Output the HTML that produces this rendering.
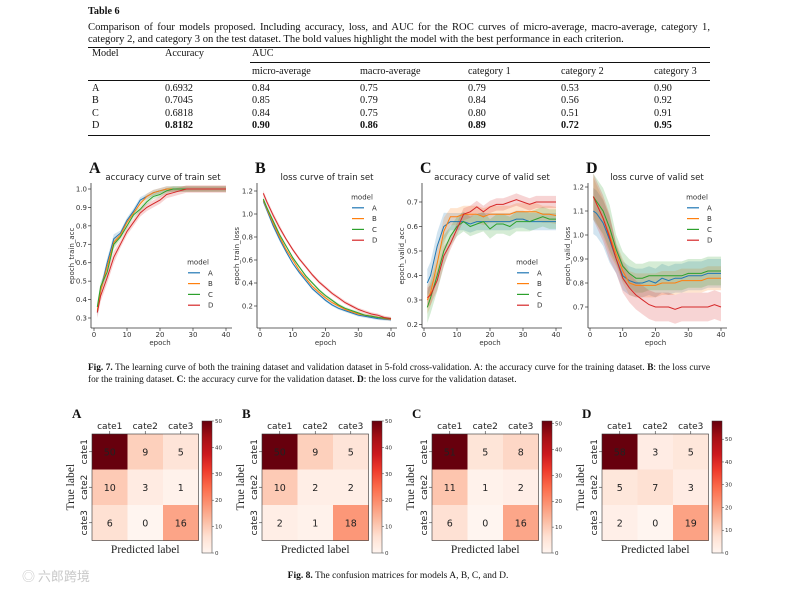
<!DOCTYPE html>
<html><head><meta charset="utf-8">
<style>
body{margin:0;background:#fff;}
#root{position:relative;width:792px;height:590px;overflow:hidden;background:#fff;font-family:"Liberation Serif",serif;color:#111;}
.abs{position:absolute;white-space:nowrap;}
.t{font-size:10.2px;}
.cap{position:absolute;left:88px;width:622px;font-size:10.6px;line-height:12px;text-align:justify;}
.rule{position:absolute;background:#111;height:1px;}
svg text{font-family:"DejaVu Sans","Liberation Sans",sans-serif;}
svg text.serif{font-family:"Liberation Serif",serif;}
</style></head>
<body>
<div id="root">
  <div class="abs t" style="left:88px;top:6px;font-weight:bold;">Table 6</div>
  <div class="cap" style="top:22px;">Comparison of four models proposed. Including accuracy, loss, and AUC for the ROC curves of micro-average, macro-average, category 1, category 2, and category 3 on the test dataset. The bold values highlight the model with the best performance in each criterion.</div>
  <div class="rule" style="left:88px;width:622px;top:47px;"></div>
  <div class="rule" style="left:250px;width:460px;top:62px;height:0.8px;"></div>
  <div class="rule" style="left:88px;width:622px;top:80px;height:0.8px;"></div>
  <div class="rule" style="left:88px;width:622px;top:135px;"></div>
  <div id="tbl"></div>

  <div class="cap" style="top:362px;font-size:9.3px;"><b>Fig. 7.</b> The learning curve of both the training dataset and validation dataset in 5-fold cross-validation. A: the accuracy curve for the training dataset. <b>B</b>: the loss curve for the training dataset. <b>C</b>: the accuracy curve for the validation dataset. <b>D</b>: the loss curve for the validation dataset.</div>
  <div class="abs t" style="left:0;width:796px;text-align:center;top:571px;font-size:9.5px;"><b>Fig. 8.</b> The confusion matrices for models A, B, C, and D.</div>
  <div class="abs" style="left:22px;top:566px;font-size:13px;color:#c8c8c8;font-family:'Noto Sans CJK SC',sans-serif;">◎ 六郎跨境</div>

  <svg id="svg" width="792" height="590" style="position:absolute;left:0;top:0;"></svg>
</div>
<script>
// ---------- table ----------
const tableCols=["Model","Accuracy","micro-average","macro-average","category 1","category 2","category 3"];
const tableRows=[
 ["A","0.6932","0.84","0.75","0.79","0.53","0.90"],
 ["B","0.7045","0.85","0.79","0.84","0.56","0.92"],
 ["C","0.6818","0.84","0.75","0.80","0.51","0.91"],
 ["D","0.8182","0.90","0.86","0.89","0.72","0.95"]];
// ---------- learning curves ----------
const epochs=[1,2,4,6,8,10,12,14,16,18,20,22,24,26,28,30,32,34,36,38,40];
const models=["A","B","C","D"];
const trainAccA=[0.33,0.45,0.60,0.73,0.76,0.83,0.88,0.94,0.96,0.98,0.99,1,1,1,1,1,1,1,1,1,1];
const trainAccB=[0.34,0.45,0.58,0.71,0.75,0.82,0.87,0.92,0.96,0.98,0.99,1,1,1,1,1,1,1,1,1,1];
const trainAccC=[0.36,0.47,0.55,0.70,0.74,0.80,0.86,0.89,0.93,0.96,0.97,0.99,1,1,1,1,1,1,1,1,1];
const trainAccD=[0.33,0.42,0.52,0.63,0.70,0.77,0.82,0.87,0.90,0.92,0.94,0.97,0.98,0.99,1,1,1,1,1,1,1];
const trainLossA=[1.11,1.04,0.90,0.78,0.67,0.57,0.49,0.42,0.35,0.30,0.25,0.21,0.18,0.16,0.14,0.12,0.11,0.10,0.09,0.085,0.08];
const trainLossB=[1.12,1.05,0.92,0.80,0.69,0.60,0.51,0.44,0.37,0.32,0.27,0.23,0.20,0.17,0.15,0.13,0.12,0.11,0.10,0.09,0.085];
const trainLossC=[1.13,1.06,0.94,0.82,0.72,0.62,0.54,0.46,0.40,0.34,0.29,0.25,0.21,0.18,0.16,0.14,0.12,0.11,0.10,0.095,0.09];
const trainLossD=[1.18,1.11,0.99,0.88,0.78,0.69,0.61,0.54,0.47,0.41,0.36,0.31,0.27,0.23,0.20,0.17,0.15,0.13,0.12,0.10,0.09];
const validAccA=[0.37,0.40,0.52,0.60,0.62,0.62,0.62,0.61,0.62,0.62,0.62,0.62,0.62,0.62,0.63,0.63,0.62,0.62,0.62,0.62,0.62];
const validAccB=[0.30,0.33,0.45,0.58,0.64,0.64,0.65,0.65,0.65,0.64,0.65,0.65,0.65,0.65,0.66,0.66,0.66,0.66,0.65,0.65,0.645];
const validAccC=[0.27,0.31,0.40,0.50,0.56,0.60,0.62,0.60,0.61,0.62,0.59,0.61,0.61,0.60,0.62,0.62,0.62,0.63,0.64,0.63,0.63];
const validAccD=[0.31,0.32,0.38,0.48,0.53,0.59,0.65,0.66,0.68,0.66,0.68,0.69,0.69,0.70,0.71,0.70,0.69,0.70,0.70,0.70,0.70];
const validLossA=[1.10,1.09,1.05,0.98,0.90,0.83,0.81,0.80,0.80,0.81,0.80,0.82,0.81,0.82,0.82,0.83,0.83,0.83,0.84,0.84,0.84];
const validLossB=[1.16,1.13,1.07,1.00,0.92,0.85,0.80,0.79,0.79,0.79,0.79,0.80,0.80,0.80,0.81,0.81,0.81,0.81,0.82,0.82,0.82];
const validLossC=[1.16,1.14,1.10,1.03,0.94,0.87,0.84,0.82,0.82,0.83,0.83,0.83,0.83,0.83,0.83,0.84,0.84,0.84,0.85,0.85,0.85];
const validLossD=[1.16,1.13,1.07,0.99,0.90,0.82,0.78,0.75,0.73,0.71,0.70,0.70,0.70,0.69,0.70,0.70,0.70,0.70,0.70,0.71,0.70];
const bandTrainAcc=[0.015,0.015,0.015,0.02];
const bandTrainLoss=[0.012,0.012,0.012,0.015];
const bandValidAcc=[0.035,0.035,0.04,0.025];
const bandValidLoss=[0.06,0.05,0.06,0.06];
const xTicks=[0,10,20,30,40];
const yTicksA=[0.3,0.4,0.5,0.6,0.7,0.8,0.9,1.0];
const yTicksB=[0.2,0.4,0.6,0.8,1.0,1.2];
const yTicksC=[0.2,0.3,0.4,0.5,0.6,0.7];
const yTicksD=[0.7,0.8,0.9,1.0,1.1,1.2];
// ---------- confusion matrices ----------
const cmLabels=["cate1","cate2","cate3"];
const cmA=[[50,9,5],[10,3,1],[6,0,16]];
const cmB=[[50,9,5],[10,2,2],[2,1,18]];
const cmC=[[51,5,8],[11,1,2],[6,0,16]];
const cmD=[[58,3,5],[5,7,3],[2,0,19]];
const cbTicks=[0,10,20,30,40,50];
</script>
<script>
const NS="http://www.w3.org/2000/svg";
const svg=document.getElementById('svg');
function mk(tag,attrs,parent,txt){const e=document.createElementNS(NS,tag);for(const k in attrs)e.setAttribute(k,attrs[k]);if(txt!==undefined)e.textContent=txt;(parent||svg).appendChild(e);return e;}

(function(){
 const tbl=document.getElementById('tbl');
 const xs=[92,165,252,360,468,561,654];
 function cell(txt,x,y,bold,name){const d=document.createElement('div');d.className='abs t';d.style.left=x+'px';d.style.top=y+'px';if(bold)d.style.fontWeight='bold';d.textContent=txt;
  
  
  tbl.appendChild(d);}
 cell(tableCols[0],xs[0],48,false,'header-model');
 cell(tableCols[1],xs[1],48,false,'header-accuracy');
 cell('AUC',xs[2],48,false,'header-auc');
 for(let i=2;i<7;i++)cell(tableCols[i],xs[i],66,false,'header-'+tableCols[i].replace(' ','-'));
 tableRows.forEach((r,ri)=>{r.forEach((v,ci)=>cell(v,xs[ci],83+ri*12.4,ri===3&&ci>0,'row-'+r[0]+'-col-'+ci));});
})();

const colors=["#1f77b4","#ff7f0e","#2ca02c","#d62728"];
function panel(cfg){
 const g=mk('g',{});
 
 
 const X=e=>cfg.x0+e*(cfg.x40-cfg.x0)/40;
 const Y=v=>cfg.yA+(v-cfg.vA)*(cfg.yB-cfg.yA)/(cfg.vB-cfg.vA);
 cfg.series.forEach((s,i)=>{
  const up=epochs.map((e,k)=>X(e).toFixed(1)+','+Y(s[k]+cfg.band[i]*(k<4?1.6:1)).toFixed(1));
  const dn=epochs.map((e,k)=>X(e).toFixed(1)+','+Y(s[k]-cfg.band[i]*(k<4?1.6:1)).toFixed(1)).reverse();
  const b=mk('polygon',{points:up.concat(dn).join(' '),fill:colors[i],'fill-opacity':0.2,stroke:'none'},g);
  
  
 });
 cfg.series.forEach((s,i)=>{
  const l=mk('polyline',{points:epochs.map((e,k)=>X(e).toFixed(1)+','+Y(s[k]).toFixed(1)).join(' '),fill:'none',stroke:colors[i],'stroke-width':1},g);
  
  
 });
 mk('line',{x1:cfg.left,y1:cfg.top,x2:cfg.left,y2:328,stroke:'#333','stroke-width':0.8},g);
 mk('line',{x1:cfg.left,y1:328,x2:cfg.x40+6,y2:328,stroke:'#333','stroke-width':0.8},g);
 xTicks.forEach(t=>{mk('line',{x1:X(t),y1:328,x2:X(t),y2:331,stroke:'#333','stroke-width':0.7},g);
  const tx=mk('text',{x:X(t),y:337,'font-size':7,'text-anchor':'middle',fill:'#333'},g,String(t));
  
  });
 cfg.yt.forEach(t=>{mk('line',{x1:cfg.left-3,y1:Y(t),x2:cfg.left,y2:Y(t),stroke:'#333','stroke-width':0.7},g);
  const tx=mk('text',{x:cfg.left-4,y:Y(t)+2.5,'font-size':7,'text-anchor':'end',fill:'#333'},g,t.toFixed(1));
  
  });
 const xl=mk('text',{x:(cfg.x0+cfg.x40)/2,y:345,'font-size':7,'text-anchor':'middle',fill:'#333'},g,'epoch');
 
 
 const yl=mk('text',{x:0,y:0,'font-size':7,'text-anchor':'middle',fill:'#333',transform:`translate(${cfg.ylx},256) rotate(-90)`},g,cfg.ylabel);
 
 
 const ti=mk('text',{x:cfg.tx,y:180,'font-size':8.6,'text-anchor':'middle',fill:'#222'},g,cfg.title);
 
 
 const le=mk('text',{x:cfg.left-2,y:173,'font-size':16,'font-weight':'bold',class:'serif',fill:'#111'},g,cfg.letter);
 
 
 const lg=mk('g',{},g);
 
 
 mk('text',{x:cfg.lx+10,y:cfg.ly+2.5,'font-size':7,'text-anchor':'middle',fill:'#333'},lg,'model');
 models.forEach((m,i)=>{const yy=cfg.ly+10.8*(i+1);
  mk('line',{x1:cfg.lx,y1:yy,x2:cfg.lx+12,y2:yy,stroke:colors[i],'stroke-width':1.2},lg);
  const t=mk('text',{x:cfg.lx+20,y:yy+2.5,'font-size':7,fill:'#333'},lg,m);
  
  });
}
panel({name:'chart-train-accuracy',letter:'A',title:'accuracy curve of train set',ylabel:'epoch_train_acc',series:[trainAccA,trainAccB,trainAccC,trainAccD],band:bandTrainAcc,
 x0:94,x40:226,vA:1.0,yA:189,vB:0.3,yB:318,left:91,top:183,yt:yTicksA,ylx:74,tx:163,lx:188,ly:262});
panel({name:'chart-train-loss',letter:'B',title:'loss curve of train set',ylabel:'epoch_train_loss',series:[trainLossA,trainLossB,trainLossC,trainLossD],band:bandTrainLoss,
 x0:260,x40:391,vA:1.2,yA:191,vB:0.2,yB:306,left:257,top:183,yt:yTicksB,ylx:239,tx:327,lx:352,ly:197});
panel({name:'chart-valid-accuracy',letter:'C',title:'accuracy curve of valid set',ylabel:'epoch_valid_acc',series:[validAccA,validAccB,validAccC,validAccD],band:bandValidAcc,
 x0:424,x40:556,vA:0.7,yA:202,vB:0.3,yB:300,left:422,top:183,yt:yTicksC,ylx:404,tx:492,lx:517,ly:262});
panel({name:'chart-valid-loss',letter:'D',title:'loss curve of valid set',ylabel:'epoch_valid_loss',series:[validLossA,validLossB,validLossC,validLossD],band:bandValidLoss,
 x0:590,x40:721,vA:1.2,yA:187,vB:0.7,yB:307,left:588,top:183,yt:yTicksD,ylx:570,tx:657,lx:687,ly:197});

const reds=[[255,245,240],[254,224,210],[252,187,161],[252,146,114],[251,106,74],[239,59,44],[203,24,29],[165,15,21],[103,0,13]];
function red(t){t=Math.max(0,Math.min(1,t))*8;const i=Math.min(7,Math.floor(t)),f=t-i;const a=reds[i],b=reds[i+1];
 return `rgb(${Math.round(a[0]+(b[0]-a[0])*f)},${Math.round(a[1]+(b[1]-a[1])*f)},${Math.round(a[2]+(b[2]-a[2])*f)})`;}
const defs=mk('defs',{});
const grad=mk('linearGradient',{id:'cbg',x1:0,y1:1,x2:0,y2:0},defs);
for(let i=0;i<=16;i++)mk('stop',{offset:i/16,'stop-color':red(i/16)},grad);

function cm(data,letter,left){
 const g=mk('g',{});
 
 
 const top=434,cs=35.5,vmax=Math.max(...data.flat());
 data.forEach((row,r)=>row.forEach((v,c)=>{
  const rc=mk('rect',{x:left+c*cs,y:top+r*cs,width:cs+0.3,height:cs+0.3,fill:red(v/vmax)},g);
  
  
  const t=mk('text',{x:left+c*cs+cs/2,y:top+r*cs+cs/2+3.5,'font-size':9.5,'text-anchor':'middle',fill:'#222'},g,String(v));
  
  
 }));
 mk('rect',{x:left,y:top,width:3*cs,height:3*cs,fill:'none',stroke:'#333','stroke-width':0.6},g);
 cmLabels.forEach((l,i)=>{
  const a=mk('text',{x:left+i*cs+cs/2,y:top-5,'font-size':9,'text-anchor':'middle',fill:'#222'},g,l);
  
  
  const b=mk('text',{x:0,y:0,'font-size':9,'text-anchor':'middle',fill:'#222',transform:`translate(${left-5},${top+i*cs+cs/2}) rotate(-90)`},g,l);
  
  
  mk('line',{x1:left-3,y1:top+i*cs+cs/2,x2:left,y2:top+i*cs+cs/2,stroke:'#333','stroke-width':0.6},g);
  mk('line',{x1:left+i*cs+cs/2,y1:top,x2:left+i*cs+cs/2,y2:top-3,stroke:'#333','stroke-width':0.6},g);
 });
 const pl=mk('text',{x:left+1.5*cs,y:553,'font-size':11.5,'text-anchor':'middle',class:'serif',fill:'#222'},g,'Predicted label');
 
 
 const tl=mk('text',{x:0,y:0,'font-size':11.5,'text-anchor':'middle',class:'serif',fill:'#222',transform:`translate(${left-18},${top+1.5*cs}) rotate(-90)`},g,'True label');
 
 
 const lt=mk('text',{x:left-20,y:418,'font-size':13,'font-weight':'bold',class:'serif',fill:'#111'},g,letter);
 
 
 const cbx=left+110,cbt=421,cbb=553;
 const cb=mk('rect',{x:cbx,y:cbt,width:10,height:cbb-cbt,fill:'url(#cbg)',stroke:'#333','stroke-width':0.5},g);
 
 
 cbTicks.forEach(t=>{const y=cbb-(t/vmax)*(cbb-cbt);
  mk('line',{x1:cbx+10,y1:y,x2:cbx+12,y2:y,stroke:'#333','stroke-width':0.5},g);
  const tx=mk('text',{x:cbx+13,y:y+2,'font-size':5.5,fill:'#333'},g,String(t));
  
  });
}
cm(cmA,'A',92);cm(cmB,'B',262);cm(cmC,'C',432);cm(cmD,'D',602);
</script>
</body></html>
